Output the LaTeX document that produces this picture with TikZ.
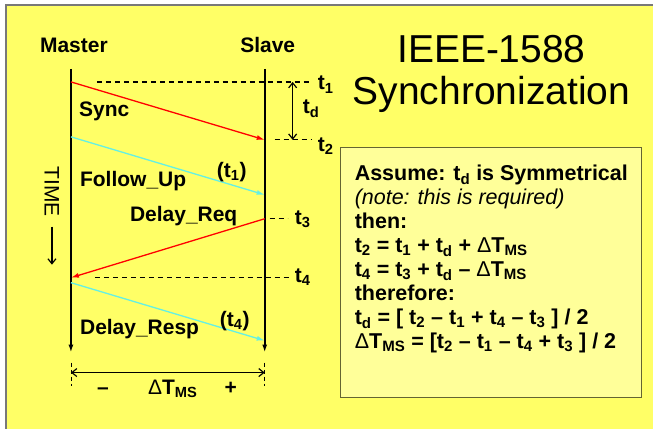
\documentclass[tikz,border=0pt]{standalone}
\usepackage{fontspec}
\setmainfont{Liberation Sans}
\usepackage{tikz}
\usetikzlibrary{arrows.meta}
\definecolor{slideyellow}{RGB}{255, 255, 102}
\definecolor{boxyellow}{RGB}{255, 255, 153}
\definecolor{boxedge}{RGB}{100, 100, 50}
\definecolor{msgred}{RGB}{255, 0, 0}
\definecolor{msgcyan}{RGB}{100, 240, 228}
\definecolor{framegray}{RGB}{120, 120, 120}
\newcommand{\tsub}[1]{t\textsubscript{#1}}
\newcommand{\dTms}{{\mdseries Δ}T\textsubscript{MS}}

\begin{document}
\begin{tikzpicture}[x=1pt, y=-1pt,
  lbl/.style={font=\fontsize{21}{22}\selectfont\bfseries, inner sep=0pt},
  lifeline/.style={line width=2pt, -{Latex[length=8pt, width=5pt]}},
  redmsg/.style={msgred, line width=1.3pt, -{Latex[length=8pt, width=5pt]}},
  cyanmsg/.style={msgcyan, line width=1.3pt, -{Latex[length=8pt, width=5pt]}},
  tick/.style={line width=1.2pt, dash pattern=on 5pt off 4pt},
  span/.style={line width=1.2pt, {Straight Barb[length=5pt, width=8pt]}-{Straight Barb[length=5pt, width=8pt]}}]

  % Slide background
  \fill[white] (0,0) rectangle (654,429);
  \fill[slideyellow] (6,5) rectangle (654,429);
  \draw[framegray, line width=1.5pt] (6,429) -- (6,5) -- (654,5);

  % Title
  \node[font=\fontsize{39}{42}\selectfont, anchor=base, inner sep=0pt] (title1) at (492,63) {IEEE-1588};
  \node[font=\fontsize{39}{42}\selectfont, anchor=base, inner sep=0pt] (title2) at (492,105) {Synchronization};

  % Master and slave time lines
  \node[lbl, anchor=base] (master) at (74,53) {Master};
  \node[lbl, anchor=base] (slave) at (268,53) {Slave};
  \coordinate (mtop) at (71,69);
  \coordinate (mbot) at (71,353);
  \coordinate (stop) at (265,69);
  \coordinate (sbot) at (265,353);
  \draw[lifeline] (mtop) -- (mbot);
  \draw[lifeline] (stop) -- (sbot);

  % Time direction
  \node[font=\fontsize{21}{22}\selectfont, rotate=-90, inner sep=0pt] (time) at (52,192) {TIME};
  \coordinate (tstart) at (52,227);
  \coordinate (tend) at (52,265);
  \draw[line width=1.2pt, -{Straight Barb[length=5pt, width=8pt]}] (tstart) -- (tend);

  % Message end points
  \coordinate (sync0) at (71,82);
  \coordinate (sync1) at (265,140);
  \coordinate (fup0) at (71,137);
  \coordinate (fup1) at (265,195);
  \coordinate (dreq0) at (265,219);
  \coordinate (dreq1) at (71,278);
  \coordinate (dresp0) at (71,283);
  \coordinate (dresp1) at (265,341);

  % Messages
  \draw[redmsg] (sync0) -- (sync1);
  \draw[cyanmsg] (fup0) -- (fup1);
  \draw[redmsg] (dreq0) -- (dreq1);
  \draw[cyanmsg] (dresp0) -- (dresp1);
  \node[lbl, anchor=base west] (synclbl) at (79,117) {Sync};
  \node[lbl, anchor=base west] (fuplbl) at (80,187) {Follow\_Up};
  \node[lbl, anchor=base west] (fupts) at (217,178) {(\tsub{1})};
  \node[lbl, anchor=base west] (dreqlbl) at (130,222) {Delay\_Req};
  \node[lbl, anchor=base west] (dresplbl) at (80,335) {Delay\_Resp};
  \node[lbl, anchor=base west] (dresputs) at (220,327) {(\tsub{4})};

  % Time stamps
  \coordinate (t1a) at (97,82);
  \coordinate (t1b) at (312,82);
  \coordinate (t2a) at (275,140);
  \coordinate (t2b) at (312,140);
  \coordinate (t3a) at (270,219);
  \coordinate (t3b) at (288,219);
  \coordinate (t4a) at (95,278);
  \coordinate (t4b) at (289,278);
  \draw[tick] (t1a) -- (t1b);
  \draw[tick] (t2a) -- (t2b);
  \draw[tick] (t3a) -- (t3b);
  \draw[tick] (t4a) -- (t4b);
  \node[lbl, anchor=base west] (t1) at (318,90) {\tsub{1}};
  \node[lbl, anchor=base west] (t2) at (318,152) {\tsub{2}};
  \node[lbl, anchor=base west] (t3) at (295,225) {\tsub{3}};
  \node[lbl, anchor=base west] (t4) at (295,283) {\tsub{4}};

  % Delay t_d
  \coordinate (tdtop) at (293,82);
  \coordinate (tdbot) at (293,140);
  \draw[span] (tdtop) -- (tdbot);
  \node[lbl, anchor=base west] (td) at (303,114) {\tsub{d}};

  % Offset between master and slave
  \coordinate (offm0) at (71,363);
  \coordinate (offm1) at (71,386);
  \coordinate (offs0) at (265,363);
  \coordinate (offs1) at (265,386);
  \draw[line width=0.8pt, dash pattern=on 4pt off 3pt] (offm0) -- (offm1);
  \draw[line width=0.8pt, dash pattern=on 4pt off 3pt] (offs0) -- (offs1);
  \coordinate (offl) at (71,373);
  \coordinate (offr) at (265,373);
  \draw[span] (offl) -- (offr);
  \node[lbl, anchor=base] (minus) at (103,395) {–};
  \node[lbl, anchor=base] (offset) at (173,395) {\dTms};
  \node[lbl, anchor=base] (plus) at (231,395) {+};

  % Result box
  \node[draw=boxedge, fill=boxyellow, line width=1.2pt, anchor=north west,
        minimum width=302pt, minimum height=250pt, inner sep=0pt] (box) at (340,147) {};
  \node[anchor=north west, align=left, inner sep=0pt,
        font=\fontsize{21.5}{24}\selectfont\bfseries] (rules) at (355,165) {
    Assume: \tsub{d} is Symmetrical\\
    {\mdseries\itshape (note: this is required)}\\
    then:\\
    \tsub{2} = \tsub{1} + \tsub{d} + \dTms\\
    \tsub{4} = \tsub{3} + \tsub{d} – \dTms\\
    therefore:\\
    \tsub{d} = [ \tsub{2} – \tsub{1} + \tsub{4} – \tsub{3} ] / 2\\
    \dTms{} = [\tsub{2} – \tsub{1} – \tsub{4} + \tsub{3} ] / 2
  };
\end{tikzpicture}
\end{document}
